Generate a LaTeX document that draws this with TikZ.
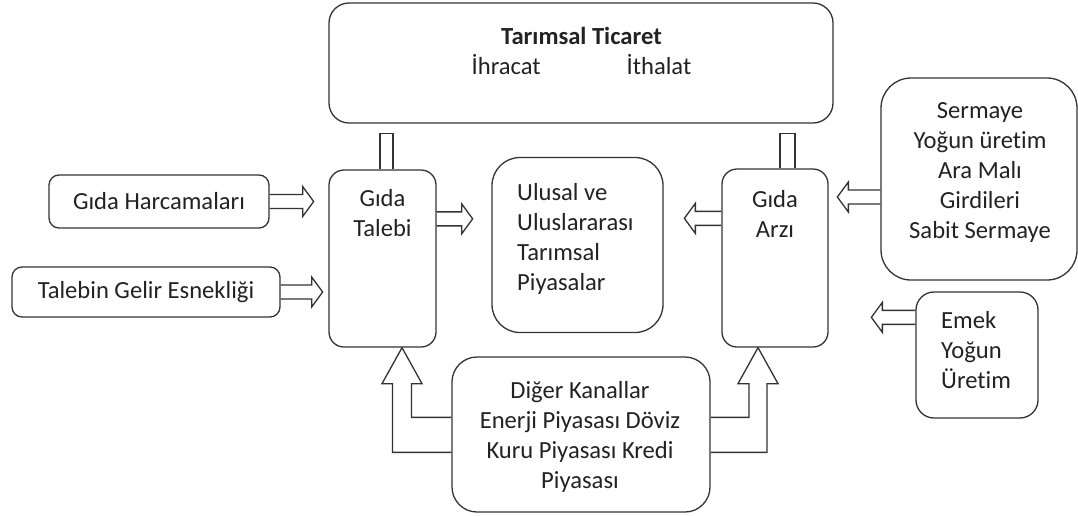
\documentclass[tikz,border=0pt]{standalone}
\usepackage{fontspec}
\setmainfont{Carlito}[Ligatures=NoCommon]
\usetikzlibrary{calc}
\definecolor{linecol}{HTML}{333333}
\definecolor{textcol}{HTML}{222222}
\newcommand\rightblock[2]{\draw[conn] ($(#1)+(0,-7)$) -- ($(#2)+(-11,-7)$) -- ($(#2)+(-11,-15)$) -- (#2) -- ($(#2)+(-11,15)$) -- ($(#2)+(-11,7)$) -- ($(#1)+(0,7)$);}
\newcommand\leftblock[2]{\draw[conn] ($(#1)+(0,-7)$) -- ($(#2)+(11,-7)$) -- ($(#2)+(11,-15)$) -- (#2) -- ($(#2)+(11,15)$) -- ($(#2)+(11,7)$) -- ($(#1)+(0,7)$);}
\begin{document}
\begin{tikzpicture}[x=1pt,y=-1pt,
  box/.style={draw=linecol, line width=1.3pt, rounded corners=#1, inner sep=0pt},
  box/.default=12pt,
  conn/.style={draw=linecol, line width=1.3pt, line join=miter},
  txt/.style={text=textcol, inner sep=0pt, font=\fontsize{24.6}{30}\selectfont},
]
\useasboundingbox (0,0) rectangle (1078,515);

% boxes
\node[box=20pt, minimum width=504pt, minimum height=120pt] (top) at (581,63) {};
\node[box=10pt, txt, minimum width=220pt, minimum height=53pt] (gh) at (159,201.5) {Gıda Harcamaları};
\node[box=10pt, txt, minimum width=268pt, minimum height=50pt] (tg) at (146,292) {Talebin Gelir Esnekliği};
\node[box=15pt, minimum width=107pt, minimum height=177pt] (gt) at (382.5,258.5) {};
\node[box=28pt, minimum width=171pt, minimum height=175pt] (ul) at (577.5,245) {};
\node[box=15pt, minimum width=106pt, minimum height=178pt] (ga) at (775,258) {};
\node[box=30pt, minimum width=196pt, minimum height=202pt] (sm) at (979,179) {};
\node[box=18pt, minimum width=122pt, minimum height=126pt] (em) at (977,355) {};
\node[box=25pt, minimum width=258pt, minimum height=155pt] (dk) at (581,434.5) {};

% texts
\node[txt, align=center] (topT) at (581.5,50.5) {\textbf{Tarımsal Ticaret}\\İhracat\hspace{86pt}İthalat};
\node[txt, align=center] (gtT) at (382.5,212.7) {Gıda\\Talebi};
\node[txt, align=center] (gaT) at (775,213.7) {Gıda\\Arzı};
\node[txt, align=left, anchor=west] (ulT) at (517,239.2) {Ulusal ve\\Uluslararası\\Tarımsal\\Piyasalar};
\node[txt, align=center] (smT) at (980,172.7) {Sermaye\\Yoğun üretim\\Ara Malı\\Girdileri\\Sabit Sermaye};
\node[txt, align=left, anchor=west] (emT) at (941,349.7) {Emek\\Yoğun\\Üretim};
\node[txt, align=center] (dkT) at (580,437.2) {Diğer Kanallar\\Enerji Piyasası Döviz\\Kuru Piyasası Kredi\\Piyasası};

% coordinates for arrows
\coordinate (ghTip) at ($(gh.east)+(44,0)$);
\coordinate (tgTip) at ($(tg.east)+(42,0)$);
\coordinate (gtOut) at ($(gt.north east)+(0,49.5)$);
\coordinate (gtArrTip) at ($(gtOut)+(36,0)$);
\coordinate (gaOut) at ($(ga.north west)+(0,50)$);
\coordinate (gaArrTip) at ($(gaOut)+(-37,0)$);
\coordinate (smOut) at ($(sm.west)+(0,18)$);
\coordinate (smTip) at ($(smOut)+(-43,0)$);
\coordinate (emOut) at ($(em.north west)+(0,26)$);
\coordinate (emTip) at ($(emOut)+(-44,0)$);

% horizontal hollow arrows
\rightblock{gh.east}{ghTip}
\rightblock{tg.east}{tgTip}
\rightblock{gtOut}{gtArrTip}
\leftblock{gaOut}{gaArrTip}
\leftblock{smOut}{smTip}
\leftblock{emOut}{emTip}

% bent arrows from Diğer Kanallar
\coordinate (gtIn) at ($(gt.south)+(19.5,0)$);
\coordinate (dkIn) at ($(dk.north west)+(0,61)$);
\coordinate (dkOut) at ($(dk.north west)+(0,96)$);
\draw[conn] (dkIn) -- ($(dkIn -| gtIn)+(9.5,0)$) -- ($(gtIn)+(9.5,36)$) -- ($(gtIn)+(20,36)$) -- (gtIn)
  -- ($(gtIn)+(-20,36)$) -- ($(gtIn)+(-9.5,36)$) -- ($(dkOut -| gtIn)+(-9.5,0)$) -- (dkOut);
\coordinate (gaIn) at ($(ga.south)+(-17,0)$);
\coordinate (dkInR) at ($(dk.north east)+(0,61)$);
\coordinate (dkOutR) at ($(dk.north east)+(0,96)$);
\draw[conn] (dkInR) -- ($(dkInR -| gaIn)+(-9,0)$) -- ($(gaIn)+(-9,36)$) -- ($(gaIn)+(-20,36)$) -- (gaIn)
  -- ($(gaIn)+(20,36)$) -- ($(gaIn)+(9,36)$) -- ($(dkOutR -| gaIn)+(9,0)$) -- (dkOutR);

% stubs toward Tarımsal Ticaret
\draw[conn] ($(gt.north)+(-2.5,0)$) -- ++(0,-36) -- ++(13,0) -- ++(0,36);
\draw[conn] ($(ga.north)+(5,0)$) -- ++(0,-35) -- ++(15,0) -- ++(0,35);
\end{tikzpicture}
\end{document}
